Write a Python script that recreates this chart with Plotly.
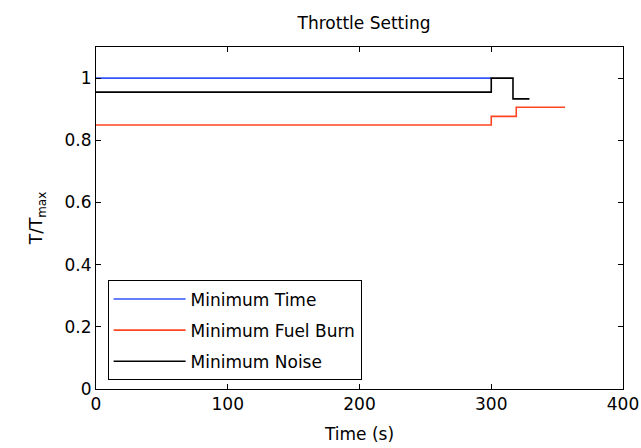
import plotly.graph_objects as go

# Data
t_min_time = [0, 300]
v_min_time = [1.0, 1.0]
t_min_fuel = [0, 300, 319, 356]
v_min_fuel = [0.849, 0.877, 0.906, 0.906]
t_min_noise = [0, 300, 316.5, 329]
v_min_noise = [0.955, 1.0, 0.933, 0.933]

x_ticks = [0, 100, 200, 300, 400]
y_ticks = [0, 0.2, 0.4, 0.6, 0.8, 1]
y_tick_text = ["0", "0.2", "0.4", "0.6", "0.8", "1"]

FONT = "DejaVu Sans, Arial, sans-serif"
FS = 17

fig = go.Figure()
fig.add_trace(go.Scatter(x=t_min_time, y=v_min_time, mode="lines", line_shape="hv",
                         line=dict(color="#3355ff", width=1.6), name="Minimum Time",
                         legendgroup="a"))
fig.add_trace(go.Scatter(x=t_min_fuel, y=v_min_fuel, mode="lines", line_shape="hv",
                         line=dict(color="#ff4422", width=1.6), name="Minimum Fuel Burn",
                         legendgroup="b"))
fig.add_trace(go.Scatter(x=t_min_noise, y=v_min_noise, mode="lines", line_shape="hv",
                         line=dict(color="#000000", width=1.6), name="Minimum Noise",
                         legendgroup="c"))

axis_common = dict(showgrid=False, zeroline=False, showline=True, linecolor="black",
                   linewidth=1, mirror="ticks", ticks="inside", ticklen=5,
                   tickcolor="black", tickfont=dict(family=FONT, size=FS, color="black"))

fig.update_layout(
    width=641, height=448,
    margin=dict(l=96, r=18, t=47, b=59, autoexpand=False),
    paper_bgcolor="white", plot_bgcolor="white",
    font=dict(family=FONT, size=FS, color="black"),
    title=dict(text="Throttle Setting", x=0.568, xanchor="center", y=0.948, yanchor="middle",
               font=dict(family=FONT, size=FS, color="black")),
    xaxis=dict(range=[0, 400], tickvals=x_ticks,
               title=dict(text="Time (s)", standoff=14, font=dict(family=FONT, size=FS)),
               **axis_common),
    yaxis=dict(range=[0, 1.1], tickvals=y_ticks, ticktext=y_tick_text,
               title=dict(text="T/T<sub>max</sub>", standoff=17, font=dict(family=FONT, size=FS)),
               **axis_common),
    legend=dict(x=0.022, y=0.025, xanchor="left", yanchor="bottom",
                bordercolor="black", borderwidth=1, bgcolor="white",
                font=dict(family=FONT, size=FS), itemwidth=72, tracegroupgap=6),
    showlegend=True,
)

fig.write_html("out.html")
